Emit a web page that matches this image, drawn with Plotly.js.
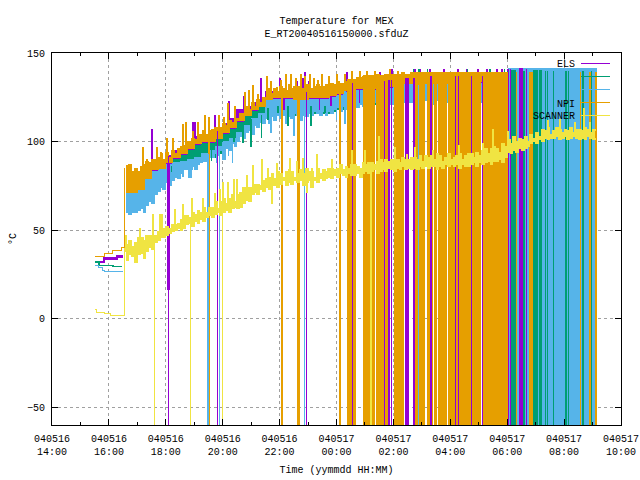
<!DOCTYPE html>
<html>
<head>
<meta charset="utf-8">
<script src="https://cdn.plot.ly/plotly-3.0.1.min.js"></script>
<style>html,body{margin:0;padding:0;background:#fff}#chart{width:640px;height:480px}#chart .scatterlayer path{shape-rendering:crispEdges}</style>
</head>
<body>
<div id="chart"></div>
<script>
// hours are counted from 00:00 on 040516, so 24 is 00:00 on 040517
const tickHours = [14,16,18,20,22,24,26,28,30,32,34];
const tickLabels = ['040516<br>14:00','040516<br>16:00','040516<br>18:00','040516<br>20:00','040516<br>22:00','040517<br>00:00','040517<br>02:00','040517<br>04:00','040517<br>06:00','040517<br>08:00','040517<br>10:00'];
const minorHours = [15,17,19,21,23,25,27,29,31,33];
const yTicks = [-50,0,50,100,150];
const seriesNames = ['ELS','','','NPI','SCANNER'];
const colPurple = '#9400d3', colGreen = '#009e73', colBlue = '#56b4e9', colOrange = '#e69f00', colYellow = '#f0e442';

const bandHours = [16.6,16.75,17,17.25,17.5,17.75,18,18.25,18.5,18.75,19,19.25,19.5,19.75,20,20.25,20.5,20.75,21,21.25,21.5,21.75,22,22.25,22.5,22.75,23,23.25,23.5,23.75,24,24.25,24.5,24.75,25,25.25,25.5,25.75,26,26.25,26.5,26.75,27,27.25,27.5,27.75,28,28.25,28.5,28.75,29,29.25,29.5,29.75,30];
// finer reading times, one every six minutes from 16.6 on
const fineHours = Array.from({length:166}, (_,k) => +(16.6 + k*0.1).toFixed(1));

// early readings before the main run
const prePurpleH = [15.55,15.83,16.28,16.5], prePurpleV = [32,34,35,35];
const preGreenH = [15.51,15.65,16.14,16.45], preGreenV = [32,30,29.5,29.5];
const preBlueH = [15.51,15.62,15.79,15.86,16.5], preBlueV = [30,29,27,26.5,26.5];
const preOrangeH = [15.51,15.83,16.14,16.43,16.56], preOrangeV = [35,37,38.5,40,85];
const preYellowH = [15.51,15.58,15.86,16.04,16.56], preYellowV = [5,3.5,3,2,40];

// band limits
const orangeHi = [84,87,83,85,83,86,87,89,88,90, 90,91,93,90,94,91,95,93,96,97, 98,100,100,102,101,104,104,106,104,106, 107,108,106,108,110,109,112,111,113,113, 116,116,120,118,122,120,124,122,125,125, 130,127,130,128,131,130,129,132,130,131, 131,130,130,132,131,130,131,132,131,131, 132,131,133,132,134,133,133,134,135,135, 135,136,136,137,136,137,137,136,138,137, 137,138,137,138,138,138,138,139,138,138, 139,139,139,139,139,139,139,139,139,139, 139,139,139,139,139,139,139,139,139,139, 139,139,139,139,139,139,139,139,139,139, 139,139,139,139,139];
const orangeLo = [71,71,73,79,84,85,88,91,93,96,99,100,100,102,105,108,112,115,118,120,124,125,125,125,124,124,125,125,125,126,127,129,130,130,130,130,130,131,132,133,133,133,133,133,133,133,134,134,134,134,134,134,134,134,134];
const purpleHi = [78,80,82,86,88,89,92,95,97,100,103,103,105,106,110,113,118,120,122,124,128,128,128,128,128,128,128,129,129,130,131,132,133,133,133,134,134,135,135,136,136,136,136,137,137,137,137,137,137,137,137,137,137,137,141];
const purpleLo = [66,66,68,74,79,80,83,86,88,91,94,95,95,97,100,103,107,110,113,115,119,120,120,120,119,119,120,120,120,121,122,124,125,125,125,125,125,126,127,128,128,128,128,128,128,128,129,129,129,129,129,129,129,129,129];
const greenHi = [70,70,72,78,83,84,87,90,92,95,98,99,99,101,104,107,111,114,117,119,123,124,124,124,123,123,124,124,124,125,126,128,129,129,129,129,129,130,131,132,132,132,132,132,132,132,133,133,133,133,133,133,133,133,140];
const greenLo = [62,62,64,70,75,76,79,82,84,87,90,91,91,93,96,99,103,106,109,111,115,116,116,116,115,115,116,116,116,117,118,120,121,121,121,121,121,122,123,124,124,124,124,124,124,124,125,125,125,125,125,125,125,125,125];
const blueHi = [72,72,74,79,83,85,87,88,89,90,91,93,95,97,100,102,105,109,113,116,123,124,124,124,123,123,124,124,124,125,126,128,129,129,129,129,129,130,131,132,132,132,132,132,132,132,133,133,133,133,133,133,133,133,133];
const blueLo = [60,59,60,60,61,62,60,64,66,65, 70,72,74,73,77,75,78,80,79,82, 84,84,80,86,84,87,88,89,89,91, 91,93,92,95,90,96,95,99,97,100, 103,102,105,106,104,109,108,111,110,113, 110,114,112,115,113,115,110,114,113,116, 115,112,115,114,116,115,117,116,115,117, 115,117,116,118,119,117,120,118,115,119, 120,119,121,120,122,121,120,122,121,122, 121,123,122,121,122,121,123,122,123,122, 122,123,122,121,122,123,122,121,122,123, 122,121,123,122,122,121,123,122,121,122, 123,122,121,122,123,122,122,121,123,122, 122,123,121,122,122];
const yellowHi = [42,44,41,43,46,46,44,47,47,46, 47,49,48,51,52,51,53,53,54,56, 58,58,57,60,59,61,60,63,60,63, 63,66,62,66,68,65,68,70,66,70, 71,74,70,74,72,76,76,75,78,79, 80,82,79,83,82,80,83,84,83,80, 82,84,82,85,83,83,80,85,82,84, 83,85,85,84,85,87,84,86,85,87, 87,86,85,88,87,88,88,87,89,90, 88,90,89,90,90,90,88,91,90,90, 91,91,90,92,89,92,91,92,90,93, 92,89,91,93,90,91,92,93,90,92, 93,93,91,94,92,95,96,93,96,97, 96,94,99,97,101,99,103,100,102,101, 103,100,104,102,105,103,107,106,108,104, 106,108,107,105,107,106,108,105,107,107, 106,108,107,105,107,106];
const yellowLo = [33,36,35,32,36,37,34,38,40,39, 43,44,46,46,47,48,49,50,51,50, 51,53,54,52,55,54,56,55,57,58, 57,59,60,58,60,61,60,62,63,62, 63,65,67,66,70,71,70,73,72,74, 73,76,75,74,76,78,75,77,76,78, 77,78,75,77,78,74,78,77,79,78, 79,80,79,81,80,82,81,80,82,81, 81,82,80,82,83,82,83,84,82,83, 84,83,85,84,83,85,84,86,84,85, 84,85,84,86,85,86,85,86,86,84, 86,85,87,86,87,86,87,85,87,86, 86,87,88,86,88,87,88,89,87,89, 89,90,88,91,94,93,95,94,96,95, 96,97,99,100,99,101,100,102,101,102, 102,103,101,102,103,101,102,103,102,101, 102,101,103,102,101,102];

// short excursions away from the band: when, and the value reached
const orangeSpikeH = [16.64,16.88,17.2,17.34,17.69,17.83,18.04,18.25,18.6,18.71,18.96,19.13,19.38,19.52,19.87,20.05,20.19,20.43,20.78,20.92,21.07,21.24,21.56,21.7,21.91,22.05,22.23,22.4,22.58,22.75,22.89,23.07,23.21,23.35,23.49,23.74,24.02,24.3,24.55,24.83,25.07,25.35,25.88,26.16];
const orangeSpikeV = [87,82.5,97,90,97,94,102,102,110,111,106,111,115,114,115,114,122,120,128,129,132,127,137,134,131,135,138,138,136,138,137,138,136,135,138,137,138,138,140,140,140,140,141,140];
const purpleSpikeH = [17.51,18.07,18.11,18.96,19.03,19.73,20.22,20.75,21.07,21.35,22.01,22.15,22.61,22.82,22.89,23.03,23.4,23.8,24.37,24.8,25.3,25.53,25.95,26.76,26.94,27.29,27.78,28.27,28.59,28.97,29.29,29.64,29.82];
const purpleSpikeV = [107,16,16,111,111,115,123,126,130,136,136,118,134,136,139,134,118,120,139,122,121,139,141,141,141,141,141,141,141,141,141,141,141];
const greenSpikeH = [18.2,18.9,19.4,19.6,20.0,20.4,20.71,21.0,21.37,21.6,21.95,22.3,22.7,23.1,23.6,24.1,24.6,25.1,25.6,26.2,26.7,26.9,27.2,27.7,28.6,29.4,29.9];
const greenSpikeV = [86,92,96,89,104,100,99,97,102,112,116,109,117,109,116,114,120,121,122,123,141,141,141,123,141,141,141];
const blueSpikeH = [18.6,18.92,19.8,20.2,20.35,21.7,22.5,24.0,24.3];
const blueSpikeV = [80,84,88,92,88,105,103,112,110];
const yellowSpikeH = [16.6,17.09,17.55,17.8,17.87,18.32,18.6,18.92,19.31,19.73,19.91,20.01,20.19,20.4,20.5,20.71,20.85,21.07,21.38,21.59,21.73,21.91,22.37,22.61,22.82,22.96,23.14,23.31,23.84,24.55,25.0,25.49,26.06,26.48,26.76,27.39,28.31,29.15,29.5,30.03,31.43,31.86,32.38,32.7,32.91];
const yellowSpikeV = [47,51,59,59,59,62,65,68,68,71,73,77,77,79,79,65,81,87,90,85,65,88,91,89,91,71,85,93,90,95,95,103,97,93,97,95,98,99,107,106,112,113,111,119,111];

// drops to the bottom of the plot: start and end hour of each one
const orangeDropS = [19.52,22.08,22.64,22.69,24.13,24.39,24.44,24.6,24.97,25.15,25.25,25.43,25.56,25.74,26.06,26.2,26.76,26.9,27.22,27.36,27.47,27.61,27.73,27.95,28.21,28.3,28.65,28.76,29.15,30.3,30.54,30.78,32.57,32.91,33.12];
const orangeDropE = [19.52,22.08,22.64,22.69,24.13,24.39,24.53,24.67,25.11,25.2,25.32,25.5,25.65,25.81,26.16,26.35,26.84,27.08,27.31,27.36,27.52,27.71,27.87,28.17,28.27,28.62,28.72,29.04,30.03,30.33,30.57,30.88,32.57,32.91,33.12];
const purpleDropS = [18.09,19.81,22.94,24.56,25.69,25.85,25.93,26.44,26.51,26.73,27.33,28.18,28.28,28.74,29.13,30.05,30.11,30.45,30.67];
const purpleDropE = [18.09,19.81,22.94,24.56,25.69,25.85,25.93,26.44,26.51,26.73,27.33,28.18,28.28,28.74,29.13,30.05,30.11,30.52,30.67];
const greenDropS = [30.17,30.59,30.92,31.13,31.34,31.42,31.62,32.06,32.15,32.67,32.96];
const greenDropE = [30.27,30.59,31.04,31.18,31.34,31.42,31.62,32.06,32.15,32.67,32.96];
const blueDropS = [19.49,19.88,22.87,26.88];
const blueDropE = [19.49,19.88,22.87,26.88];
const blueBlockS = [30.06], blueBlockE = [33.14], blueBlockTop = [141];
const yellowDropS = [17.6,18.86,20.0,25.21];
const yellowDropE = [17.6,18.86,20.0,25.21];
const plotFloor = -60, plotCeil = 150;

function idx(h, hours, arr){ let i = 0; while (i+1 < hours.length && hours[i+1] <= h) i++; return Math.min(i, arr.length-1); }
function hoursFor(arr){ return arr.length === bandHours.length ? bandHours : fineHours; }
function at(h, arr){ const hs = hoursFor(arr); return arr[idx(h, hs, arr)]; }
function stairs(h, v, color, w){ return {type:'scatter', mode:'lines', x:h, y:v, line:{color:color, width:w, shape:'hv'}, hoverinfo:'skip', showlegend:false}; }
function band(hi, lo, color){
  return [
    {type:'scatter', mode:'lines', x:hoursFor(lo).slice(0,lo.length), y:lo, line:{color:color, width:1, shape:'hv'}, hoverinfo:'skip', showlegend:false},
    {type:'scatter', mode:'lines', x:hoursFor(hi).slice(0,hi.length), y:hi, fill:'tonexty', fillcolor:color, line:{color:color, width:1, shape:'hv'}, hoverinfo:'skip', showlegend:false}
  ];
}
function spikes(hs, vs, hi, lo, color){
  const x = [], y = [];
  hs.forEach((h,k)=>{ x.push(h,h,null); y.push((at(h,hi)+at(h,lo))/2, vs[k], null); });
  return {type:'scatter', mode:'lines', x:x, y:y, line:{color:color, width:1.5}, hoverinfo:'skip', showlegend:false};
}
function drops(ss, es, tops, color){
  const x = [], y = [];
  ss.forEach((s,k)=>{ const e = es[k], t = tops(s); x.push(s,e,e,s,s,null); y.push(plotFloor,plotFloor,t,t,plotFloor,null); });
  return {type:'scatter', mode:'lines', x:x, y:y, fill:'toself', fillcolor:color, line:{color:color, width:1.5}, hoverinfo:'skip', showlegend:false};
}
const topOf = hi => (h => at(h,hi));

const data = [].concat(
  [stairs(prePurpleH, prePurpleV, colPurple, 2.5), stairs(preGreenH, preGreenV, colGreen, 1.5), stairs(preBlueH, preBlueV, colBlue, 1), stairs(preOrangeH, preOrangeV, colOrange, 1), stairs(preYellowH, preYellowV, colYellow, 1)],
  band(purpleHi, purpleLo, colPurple),
  band(greenHi, greenLo, colGreen),
  band(blueHi, blueLo, colBlue),
  [drops(blueBlockS, blueBlockE, () => blueBlockTop[0], colBlue),
   spikes(blueSpikeH, blueSpikeV, blueHi, blueLo, colBlue),
   spikes(purpleSpikeH, purpleSpikeV, purpleHi, purpleLo, colPurple),
   spikes(greenSpikeH, greenSpikeV, greenHi, greenLo, colGreen)],
  band(orangeHi, orangeLo, colOrange),
  [spikes(orangeSpikeH, orangeSpikeV, orangeHi, orangeLo, colOrange),
   drops(orangeDropS, orangeDropE, topOf(orangeHi), colOrange),
   drops(blueDropS, blueDropE, topOf(blueHi), colBlue),
   drops(greenDropS, greenDropE, topOf(greenHi), colGreen),
   drops(purpleDropS, purpleDropE, topOf(purpleHi), colPurple),
   drops(yellowDropS, yellowDropE, topOf(yellowLo), colYellow)],
  band(yellowHi, yellowLo, colYellow),
  [spikes(yellowSpikeH, yellowSpikeV, yellowHi, yellowLo, colYellow)]
);

const font = {family:'"Liberation Mono", "DejaVu Sans Mono", monospace', size:10, color:'#000'};
const legendColors = [colPurple, colGreen, colBlue, colOrange, colYellow];
const legendPx = [63.5,76.5,89.5,102.5,115.5];
const plotTop = 53, plotBottom = 425, plotLeft = 52, plotRight = 621;
const py = p => (plotBottom-p)/(plotBottom-plotTop), pxx = p => (p-plotLeft)/(plotRight-plotLeft);

const layout = {
  width:640, height:480, showlegend:false,
  margin:{l:plotLeft, r:640-plotRight, t:plotTop, b:480-plotBottom, pad:0},
  paper_bgcolor:'#fff', plot_bgcolor:'#fff', font:font,
  title:{text:'Temperature for MEX<br>E_RT20040516150000.sfduZ', font:font, x:0.5, xref:'paper', xanchor:'center', y:1-24/480, yref:'container', yanchor:'top'},
  xaxis:{range:[14,34], tickmode:'array', tickvals:tickHours, ticktext:tickLabels, tickangle:0, ticklabelstandoff:4,
    ticks:'inside', ticklen:6, tickcolor:'#000', tickwidth:1, showline:true, linecolor:'#000', linewidth:1, mirror:'ticks',
    showgrid:true, gridcolor:'#a0a0a0', griddash:'3px,3px', gridwidth:1, zeroline:false, tickfont:font,
    minor:{tickmode:'array', tickvals:minorHours, ticks:'inside', ticklen:3, tickcolor:'#000', showgrid:false},
    title:{text:'Time (yymmdd HH:MM)', font:font, standoff:8}},
  yaxis:{range:[plotFloor,plotCeil], tickmode:'array', tickvals:yTicks, ticklabelstandoff:4,
    ticks:'inside', ticklen:6, tickcolor:'#000', tickwidth:1, showline:true, linecolor:'#000', linewidth:1, mirror:'ticks',
    showgrid:true, gridcolor:'#a0a0a0', griddash:'3px,3px', gridwidth:1, zeroline:false, tickfont:font,
    title:{text:'°C', font:font, standoff:8}},
  shapes: legendColors.map((c,i)=>({type:'line', xref:'paper', yref:'paper', x0:pxx(581), x1:pxx(610), y0:py(legendPx[i]), y1:py(legendPx[i]), line:{color:c, width:1}})),
  annotations: seriesNames.map((n,i)=>n ? ({text:n, xref:'paper', yref:'paper', x:pxx(577), y:py(legendPx[i]+1.5), xanchor:'right', yanchor:'middle', showarrow:false, font:font}) : null).filter(Boolean)
};
Plotly.newPlot('chart', data, layout, {displayModeBar:false, staticPlot:true});
</script>
</body>
</html>
